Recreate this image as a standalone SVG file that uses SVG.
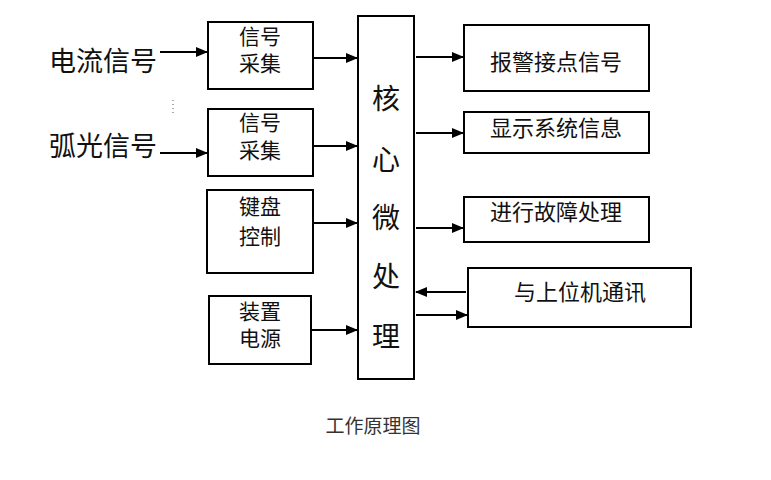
<svg xmlns="http://www.w3.org/2000/svg" width="771" height="480" viewBox="0 0 771 480">
<defs>
<marker id="ah" markerWidth="12" markerHeight="10" refX="11" refY="5" orient="auto" markerUnits="userSpaceOnUse">
<path d="M0,0 L12,5 L0,10 Z" fill="#000"/>
</marker>
<style>
.box{fill:#fff;stroke:#000;stroke-width:2}
.c{stroke:#000;stroke-width:2;fill:none;marker-end:url(#ah)}
.t{font-family:"Liberation Sans","Noto Sans CJK SC",sans-serif;fill:#111;text-anchor:middle;dominant-baseline:central}
.sm{font-size:21px}
.md{font-size:22px}
.lg{font-size:27px}
.xl{font-size:28px}
.title{font-size:19px;fill:#333}
</style>
</defs>
<rect width="771" height="480" fill="#fff"/>

<text class="t lg" x="103" y="62">电流信号</text>
<text class="t lg" x="103" y="147">弧光信号</text>

<g id="n_acq1">
<rect class="box" x="208" y="22" width="105" height="67"/>
<text class="t sm" x="260" y="36">信号</text>
<text class="t sm" x="260" y="63">采集</text>
</g>
<g id="n_acq2">
<rect class="box" x="208" y="109" width="105" height="67"/>
<text class="t sm" x="260" y="122">信号</text>
<text class="t sm" x="260" y="150">采集</text>
</g>
<g id="n_kbd">
<rect class="box" x="207" y="190" width="106" height="83"/>
<text class="t sm" x="260" y="206">键盘</text>
<text class="t sm" x="260" y="236">控制</text>
</g>
<g id="n_pwr">
<rect class="box" x="209" y="296" width="102" height="68"/>
<text class="t sm" x="260" y="311">装置</text>
<text class="t sm" x="260" y="338">电源</text>
</g>
<g id="n_core">
<rect class="box" x="358" y="16" width="56" height="363"/>
<text class="t xl" x="386" y="99">核</text>
<text class="t xl" x="386" y="160">心</text>
<text class="t xl" x="386" y="218">微</text>
<text class="t xl" x="386" y="277">处</text>
<text class="t xl" x="386" y="337">理</text>
</g>
<g id="n_alarm">
<rect class="box" x="464" y="25" width="185" height="66"/>
<text class="t md" x="556" y="62">报警接点信号</text>
</g>
<g id="n_disp">
<rect class="box" x="464" y="112" width="185" height="41"/>
<text class="t md" x="556" y="128">显示系统信息</text>
</g>
<g id="n_fault">
<rect class="box" x="464" y="197" width="185" height="45"/>
<text class="t md" x="556" y="212">进行故障处理</text>
</g>
<g id="n_comm">
<rect class="box" x="468" y="268" width="223" height="59"/>
<text class="t md" x="580" y="292">与上位机通讯</text>
</g>

<g id="connectors">
<line class="c" x1="160" y1="52" x2="207" y2="52"/>
<line class="c" x1="160" y1="153" x2="207" y2="153"/>
<line class="c" x1="313" y1="58" x2="357" y2="58"/>
<line class="c" x1="313" y1="146" x2="357" y2="146"/>
<line class="c" x1="313" y1="223" x2="357" y2="223"/>
<line class="c" x1="311" y1="330" x2="357" y2="330"/>
<line class="c" x1="416" y1="57" x2="463" y2="57"/>
<line class="c" x1="416" y1="133" x2="463" y2="133"/>
<line class="c" x1="416" y1="228" x2="463" y2="228"/>
<line class="c" x1="466" y1="292" x2="416" y2="292"/>
<line class="c" x1="416" y1="315" x2="467" y2="315"/>
</g>

<line x1="173" y1="100" x2="173" y2="114" stroke="#555" stroke-width="1" stroke-dasharray="1,3"/>

<text class="t title" x="373" y="424" style="font-family:'Noto Sans CJK SC',serif">工作原理图</text>
</svg>
